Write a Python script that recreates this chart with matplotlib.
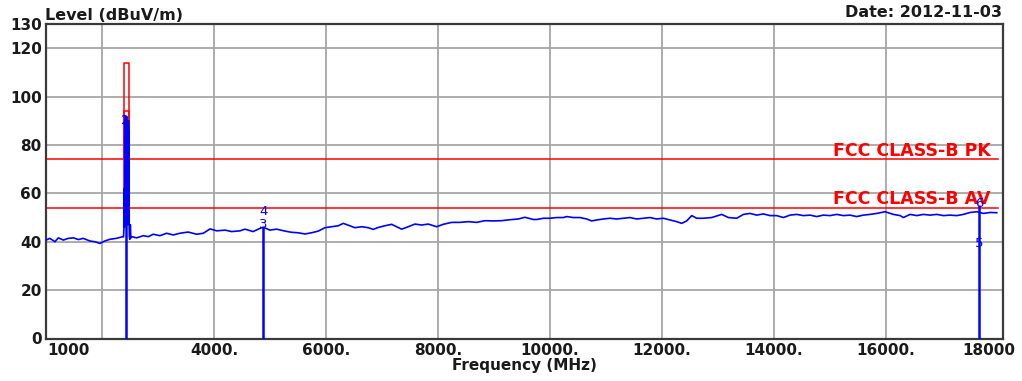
import matplotlib
matplotlib.use("Agg")
import matplotlib.pyplot as plt
from matplotlib.transforms import blended_transform_factory

# ---------------- data ----------------
freq_mhz = [1000, 1070, 1160, 1220, 1310, 1400, 1490, 1580, 1665, 1785, 1875, 1963,
            2050, 2140, 2260, 2370,
            2385, 2396, 2399, 2402, 2405, 2408, 2411, 2414, 2417, 2420, 2423, 2426,
            2429, 2432, 2435, 2438, 2441, 2444, 2447, 2450, 2453, 2456, 2459, 2462,
            2465, 2468, 2471, 2474, 2477, 2480, 2483, 2486, 2490, 2496, 2503, 2506,
            2515,
            2530, 2620, 2740, 2830, 2915, 3035, 3155, 3275, 3390, 3540, 3690, 3810,
            3930, 4050, 4200, 4315, 4465, 4555, 4700, 4820, 4880, 5000, 5120,
            5268, 5387, 5506, 5625, 5744, 5864, 5983, 6102, 6221, 6310, 6429, 6519,
            6638, 6757, 6846, 6935, 7055, 7174, 7263, 7353, 7472, 7591, 7710, 7829,
            7978, 8097, 8246, 8395, 8544, 8693, 8842, 8991, 9139, 9288, 9437, 9556,
            9705, 9765, 9884, 10003, 10122, 10242, 10301, 10420, 10539, 10659, 10748,
            10837, 10956, 11075, 11195, 11314, 11433, 11552, 11671, 11790, 11909,
            12028, 12148, 12267, 12356, 12445, 12535, 12624, 12743, 12892, 13071,
            13190, 13339, 13458, 13577, 13696, 13815, 13934, 14053, 14172, 14291,
            14410, 14530, 14649, 14768, 14887, 15006, 15125, 15244, 15363, 15483,
            15602, 15721, 15840, 15989, 16138, 16257, 16316, 16436, 16555, 16674,
            16793, 16912, 17031, 17150, 17269, 17389, 17508, 17627, 17746, 17865,
            17984]
level_dbuv = [40.7, 41.4, 40.0, 41.6, 40.7, 41.4, 41.6, 40.9, 41.4, 40.3, 40.0, 39.3,
              40.3, 41.0, 41.4, 42.1,
              42.0, 47.0, 62.0, 46.0, 63.0, 88.0, 47.0, 91.0, 62.0, 85.0, 48.0, 90.0,
              61.0, 87.0, 47.0, 91.5, 63.0, 86.0, 48.0, 90.0, 62.0, 84.0, 47.0, 89.0,
              62.0, 88.0, 48.0, 90.0, 61.0, 86.0, 58.0, 46.0, 42.0, 41.0, 41.5, 47.0,
              41.5,
              42.1, 41.6, 42.5, 42.1, 43.1, 42.5, 43.5, 42.8, 43.5, 44.0, 43.1, 43.5,
              45.3, 44.5, 44.8, 44.2, 44.5, 45.2, 44.2, 45.5, 46.0, 44.8, 45.2,
              44.4, 43.9, 43.7, 43.2, 43.7, 44.4, 45.8, 46.2, 46.6, 47.6, 46.6, 45.8,
              46.2, 45.8, 45.1, 45.9, 46.6, 47.2, 46.2, 45.2, 46.2, 47.3, 46.9, 47.3,
              46.2, 47.2, 48.0, 48.0, 48.3, 48.0, 48.7, 48.6, 48.7, 49.1, 49.4, 50.1,
              49.2, 49.2, 49.7, 49.7, 50.0, 50.0, 50.4, 50.0, 50.0, 49.4, 48.6,
              49.0, 49.4, 49.7, 49.4, 49.7, 50.0, 49.4, 49.7, 50.0, 49.4,
              49.7, 49.0, 48.3, 47.6, 48.6, 50.8, 49.7, 49.7, 50.0, 51.3,
              50.0, 49.7, 51.3, 51.7, 51.0, 51.5, 50.8, 50.8, 50.0, 51.0,
              51.3, 50.8, 51.0, 50.4, 51.0, 50.8, 51.3, 50.8, 51.0, 50.4,
              51.0, 51.3, 51.7, 52.4, 51.3, 50.8, 50.0, 51.3, 50.8, 51.3,
              51.0, 51.3, 50.8, 51.0, 50.8, 51.3, 52.1, 52.4, 51.7, 52.1,
              52.0]

limit_freq = [1000, 2400, 2400, 2483.5, 2483.5, 18000]
limit_pk = [74, 74, 114, 114, 74, 74]
limit_av = [54, 54, 94, 94, 54, 54]

marker_ids = ["1", "2", "3", "4", "5", "6"]
marker_freq = [2422, 2422, 4884, 4884, 17672, 17672]
marker_text_level = [89.5, 90.3, 47.3, 52.3, 39.4, 56.0]
marker_line_freq = [2422, 4884, 17672]
marker_line_top = [91.0, 46.0, 55.0]

x_grid = [2000, 4000, 6000, 8000, 10000, 12000, 14000, 16000]
x_labels = ["4000.", "6000.", "8000.", "10000.", "12000.", "14000.", "16000."]
x_label_pos = [4000, 6000, 8000, 10000, 12000, 14000, 16000]
y_ticks = [0, 20, 40, 60, 80, 100, 120, 130]
y_labels = ["0", "20", "40", "60", "80", "100", "120", "130"]

# ---------------- figure ----------------
W, H = 1022, 381
fig = plt.figure(figsize=(W / 100, H / 100), dpi=100)
fig.patch.set_facecolor("white")
L, R, T, B = 46, 1002.7, 24, 338.5
ax = fig.add_axes([L / W, 1 - B / H, (R - L) / W, (B - T) / H])
ax.set_xlim(1000, 18090)
ax.set_ylim(0, 130)

grid_col = "#a6a6a6"
for g in x_grid:
    ax.axvline(g, color=grid_col, lw=1.3, zorder=0)
for g in y_ticks[1:-1]:
    ax.axhline(g, color=grid_col, lw=1.3, zorder=0)

for s in ax.spines.values():
    s.set_color("#3a3a3a")
    s.set_linewidth(1.6)

ax.set_xticks([])
ax.set_yticks(y_ticks)
ax.set_yticklabels(y_labels, fontsize=11, fontweight="bold", color="#1a1a1a")
ax.tick_params(axis="y", length=0, pad=3)

# limit lines
ax.plot(limit_freq, limit_pk, color="red", lw=1.1, zorder=2)
ax.plot(limit_freq, limit_av, color="red", lw=1.1, zorder=2)
ax.text(17880, 75.6, "FCC CLASS-B PK", color="red", fontsize=12.5,
        fontweight="bold", ha="right", va="baseline", zorder=3)
ax.text(17880, 55.8, "FCC CLASS-B AV", color="red", fontsize=12.5,
        fontweight="bold", ha="right", va="baseline", zorder=3)

# trace
ax.plot(freq_mhz, level_dbuv, color="#0000ff", lw=1.2, zorder=4)

# markers
ax.vlines(marker_line_freq, 0, marker_line_top, color="#0000ff", lw=1.8, zorder=4)
for mid, mf, ml in zip(marker_ids, marker_freq, marker_text_level):
    ax.text(mf, ml, mid, color="#0000ff", fontsize=9.5, ha="center", va="center",
            zorder=5)

# x labels
trans = blended_transform_factory(ax.transData, fig.transFigure)
ylab = 1 - 355 / H
for lab, pos in zip(x_labels, x_label_pos):
    ax.text(pos, ylab, lab, transform=trans, ha="center", va="baseline",
            fontsize=11, fontweight="bold", color="#1a1a1a")
fig.text(47 / W, ylab, "1000", ha="left", va="baseline", fontsize=11,
         fontweight="bold", color="#1a1a1a")
fig.text(1015 / W, ylab, "18000", ha="right", va="baseline", fontsize=11,
         fontweight="bold", color="#1a1a1a")

fig.text(524.5 / W, 1 - 370 / H, "Frequency (MHz)", ha="center", va="baseline",
         fontsize=11, fontweight="bold", color="#1a1a1a")
fig.text(45 / W, 1 - 20 / H, "Level (dBuV/m)", ha="left", va="baseline",
         fontsize=11.5, fontweight="bold", color="#1a1a1a")
fig.text(1002 / W, 1 - 17 / H, "Date: 2012-11-03", ha="right", va="baseline",
         fontsize=11.5, fontweight="bold", color="#1a1a1a")

fig.savefig("out.png", dpi=100)
